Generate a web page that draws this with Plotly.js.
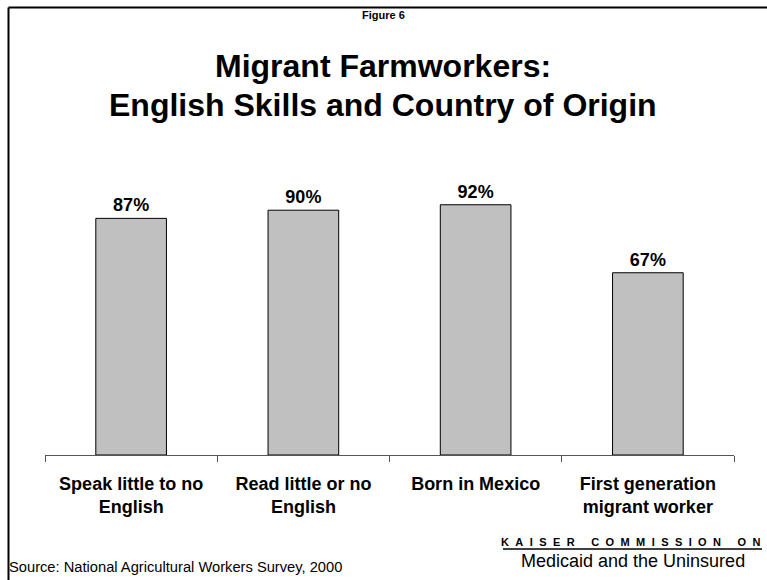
<!DOCTYPE html>
<html>
<head>
<meta charset="utf-8">
<script src="https://cdn.plot.ly/plotly-3.0.1.min.js"></script>
<style>html,body{margin:0;padding:0;background:#fff;}#chart{width:767px;height:580px;}</style>
</head>
<body>
<div id="chart"></div>
<script>
const categories = ["Speak little to no<br>English", "Read little or no<br>English", "Born in Mexico", "First generation<br>migrant worker"];
const values = [87, 90, 92, 67];
const valueLabels = ["87%", "90%", "92%", "67%"];

const W = 767, H = 580;
const M = {l: 45, r: 33, t: 183, b: 125};
const PW = W - M.l - M.r, PH = H - M.t - M.b;
const px = x => (x - M.l) / PW;
const py = y => (H - M.b - y) / PH;
const FONT = "Liberation Sans, Arial, sans-serif";

const spaced = (s) => s.split(" ").map(w => w.split("").join("\u2002\u200A")).join("\u2002\u2002\u2002");

const trace = {
  type: "bar",
  x: categories,
  y: values,
  text: valueLabels,
  textposition: "outside",
  textfont: {family: FONT, size: 18, color: "#000", weight: "bold"},
  cliponaxis: false,
  marker: {color: "#c0c0c0", line: {color: "#000", width: 1}},
  hoverinfo: "none"
};

const layout = {
  width: W, height: H,
  margin: M,
  paper_bgcolor: "#fff", plot_bgcolor: "#fff",
  showlegend: false,
  bargap: 0.59,
  xaxis: {
    type: "category",
    tickson: "boundaries",
    ticks: "outside", ticklen: 6, tickcolor: "#555", tickwidth: 1,
    ticklabelstandoff: 12,
    showline: true, linecolor: "#555", linewidth: 1,
    showgrid: false,
    tickfont: {family: FONT, size: 18, color: "#000", weight: "bold"},
    fixedrange: true
  },
  yaxis: {
    range: [0, 100], visible: false, showgrid: false, zeroline: false, fixedrange: true
  },
  shapes: [
    {type: "line", xref: "paper", yref: "paper", x0: px(8.5), x1: px(8.5), y0: py(7.5), y1: py(580), line: {color: "#000", width: 2}},
    {type: "line", xref: "paper", yref: "paper", x0: px(8.5), x1: px(767), y0: py(7.5), y1: py(7.5), line: {color: "#000", width: 2}},
    {type: "line", xref: "paper", yref: "paper", x0: px(503), x1: px(762), y0: py(549), y1: py(549), line: {color: "#000", width: 1.5}}
  ],
  annotations: [
    {text: "<b>Figure 6</b>", xref: "paper", yref: "paper", x: px(383), y: py(15), xanchor: "center", yanchor: "middle", showarrow: false, font: {family: FONT, size: 11, color: "#000"}},
    {text: "<b>Migrant Farmworkers:</b>", xref: "paper", yref: "paper", x: px(383), y: py(66), xanchor: "center", yanchor: "middle", showarrow: false, font: {family: FONT, size: 32, color: "#000"}},
    {text: "<b>English Skills and Country of Origin</b>", xref: "paper", yref: "paper", x: px(383), y: py(105), xanchor: "center", yanchor: "middle", showarrow: false, font: {family: FONT, size: 32, color: "#000"}},
    {text: "Source: National Agricultural Workers Survey, 2000", xref: "paper", yref: "paper", x: px(7), y: py(567), xanchor: "left", yanchor: "middle", showarrow: false, font: {family: FONT, size: 14.7, color: "#000"}},
    {text: "<b>" + spaced("KAISER COMMISSION ON") + "</b>", xref: "paper", yref: "paper", x: px(763), y: py(542), xanchor: "right", yanchor: "middle", showarrow: false, font: {family: FONT, size: 11, color: "#000"}},
    {text: "Medicaid and the Uninsured", xref: "paper", yref: "paper", x: px(747), y: py(561), xanchor: "right", yanchor: "middle", showarrow: false, font: {family: FONT, size: 18, color: "#000"}}
  ]
};

Plotly.newPlot("chart", [trace], layout, {staticPlot: true, displayModeBar: false});
</script>
</body>
</html>
